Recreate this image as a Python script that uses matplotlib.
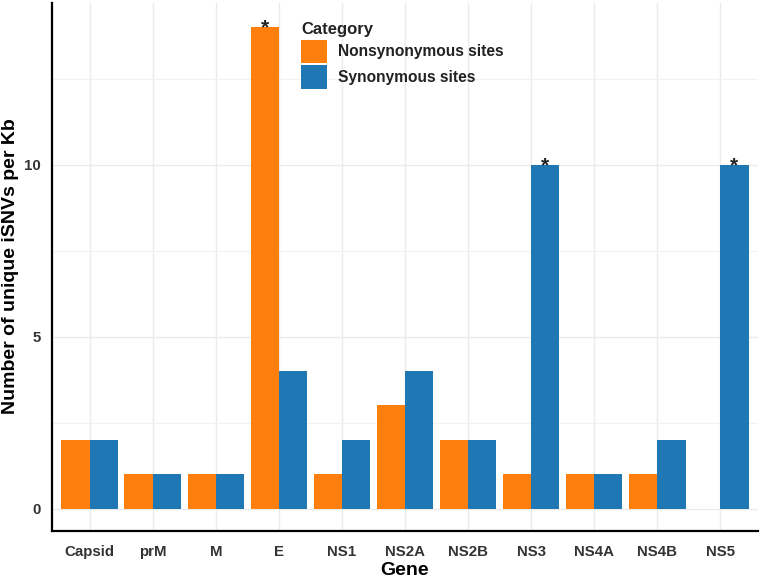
import matplotlib.pyplot as plt
import numpy as np

genes = ['Capsid', 'prM', 'M', 'E', 'NS1', 'NS2A', 'NS2B', 'NS3', 'NS4A', 'NS4B', 'NS5']
nonsyn = [2, 1, 1, 14, 1, 3, 2, 1, 1, 1, 0]
syn = [2, 1, 1, 4, 2, 4, 2, 10, 1, 2, 10]
# (gene index, series) that get a significance star
stars = [(3, 'nonsyn'), (7, 'syn'), (10, 'syn')]

plt.rcParams['font.family'] = ['Liberation Sans', 'DejaVu Sans']

col_ns = '#FF7F0E'
col_s = '#1F77B4'

fig = plt.figure(figsize=(7.6, 5.79), dpi=100)
ax = fig.add_axes([0.0684, 0.083, 0.929, 0.912])

x = np.arange(len(genes))
w = 0.45
ax.bar(x - w / 2, nonsyn, w, color=col_ns, label='Nonsynonymous sites', zorder=2)
ax.bar(x + w / 2, syn, w, color=col_s, label='Synonymous sites', zorder=2)

for i, s in stars:
    if s == 'nonsyn':
        xx, yy = x[i] - w / 2, nonsyn[i]
    else:
        xx, yy = x[i] + w / 2, syn[i]
    ax.text(xx, yy - 0.3, '*', ha='center', va='bottom', fontsize=15,
            fontweight='bold', color='#222222', zorder=3)

ax.set_xlim(-0.6, len(genes) - 0.4)
ax.set_ylim(-0.65, 14.7)
ax.set_xticks(x)
ax.set_xticklabels(genes)
ax.set_yticks([0, 5, 10])
ax.set_yticks([2.5, 7.5, 12.5], minor=True)

ax.grid(which='major', color='#EBEBEB', linewidth=1.0, zorder=0)
ax.grid(which='minor', axis='y', color='#F2F2F2', linewidth=0.8, zorder=0)

for sp in ['top', 'right']:
    ax.spines[sp].set_visible(False)
for sp in ['left', 'bottom']:
    ax.spines[sp].set_linewidth(1.6)
    ax.spines[sp].set_color('black')

ax.tick_params(axis='both', which='both', length=0, labelsize=10.8, labelcolor='#333333')
ax.tick_params(axis='x', pad=10)
ax.tick_params(axis='y', pad=8)
for lab in ax.get_xticklabels() + ax.get_yticklabels():
    lab.set_fontweight('bold')

ax.set_xlabel('Gene', fontsize=14, fontweight='bold', labelpad=2)
fig.text(11 / 760, 0.54, 'Number of unique iSNVs per Kb', rotation=90,
         ha='center', va='center', fontsize=14, fontweight='bold')

leg = ax.legend(title='Category', loc='upper left', bbox_to_anchor=(0.333, 0.99),
                frameon=False, fontsize=11.2, title_fontsize=12,
                handlelength=1.65, handleheight=1.95, handletextpad=0.75,
                labelspacing=0.15, alignment='left')
for t in leg.get_texts():
    t.set_fontweight('bold')
    t.set_color('#222222')
leg.get_title().set_fontweight('bold')
leg.get_title().set_color('#222222')

plt.savefig('out.png', dpi=100)
plt.close()
